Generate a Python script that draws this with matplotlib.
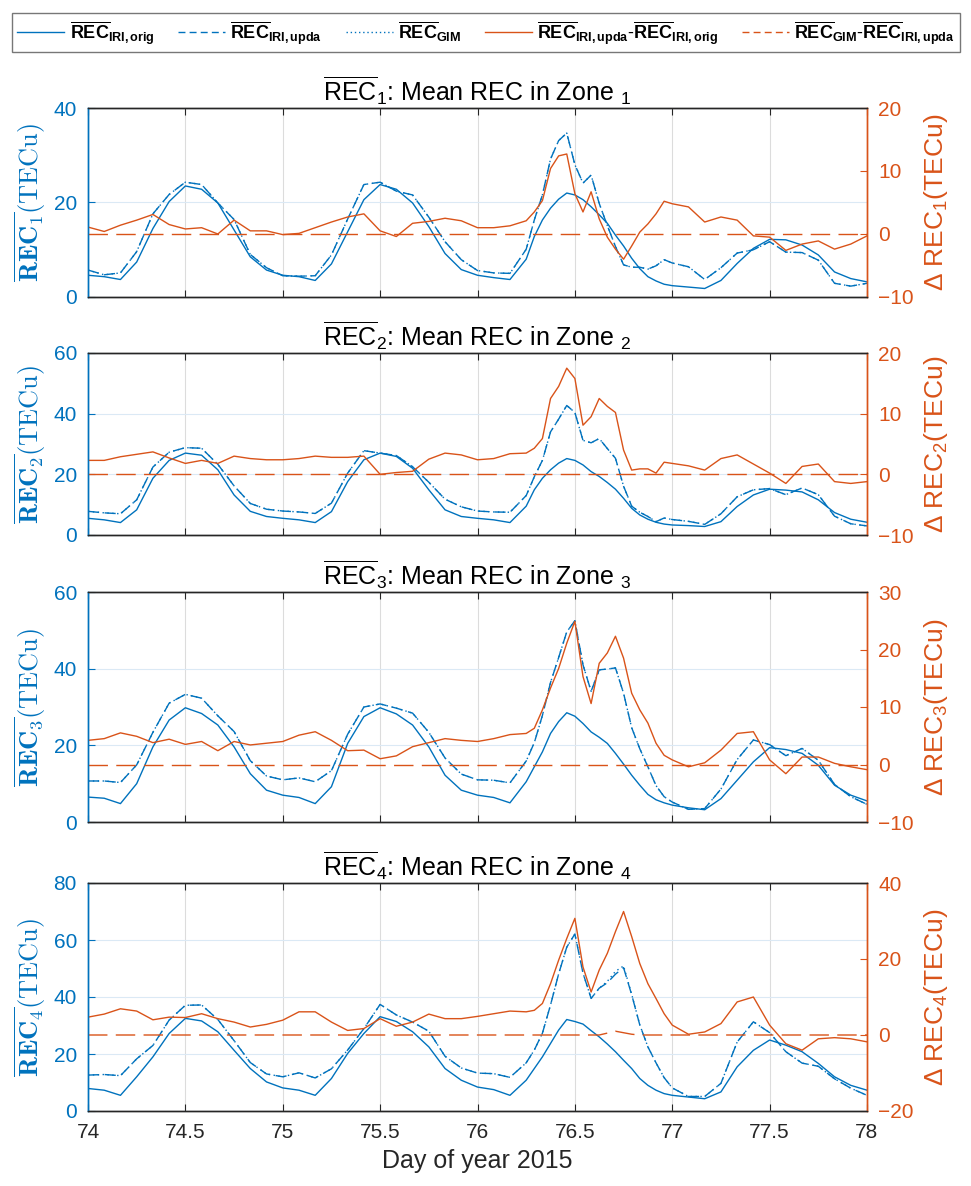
import numpy as np
import matplotlib.pyplot as plt
from matplotlib.lines import Line2D

plt.rcParams['font.family'] = ['Liberation Sans', 'DejaVu Sans']
plt.rcParams['mathtext.fontset'] = 'custom'
plt.rcParams['mathtext.rm'] = 'Liberation Sans'
plt.rcParams['mathtext.it'] = 'Liberation Sans:italic'
plt.rcParams['mathtext.bf'] = 'Liberation Sans:bold'

BLUE = '#0072BD'
ORANGE = '#D95319'
DARK = '#262626'

# sample times in hours after day 74.0 (2 h steps, hourly during the storm)
hours = list(range(0, 54, 2)) + list(range(54, 73)) + list(range(74, 97, 2))

# mean REC from original IRI (TECu)
orig_z1 = [4.6, 4.3, 3.7, 7.4, 14.5, 20.2, 23.5, 22.8, 19.9, 14.2, 8.5, 5.7, 4.6, 4.3,
           3.5, 7.0, 13.8, 20.6, 23.8, 22.8, 19.9, 14.9, 9.2, 5.8, 4.6, 4.1, 3.7,
           8.0, 12.8, 16.3, 18.8, 20.7, 22.0, 21.6, 20.6, 19.1, 17.4, 15.6, 13.1, 10.8,
           8.2, 6.0, 4.3, 3.4, 2.7, 2.4,
           2.1, 1.8, 3.5, 7.1, 10.3, 12.2, 12.1, 11.0, 8.9, 5.3, 3.9, 3.2]
orig_z2 = [5.5, 5.0, 4.1, 8.3, 18.7, 24.6, 27.0, 26.3, 21.5, 13.2, 7.8, 6.1, 5.5, 5.0,
           4.1, 7.7, 17.6, 24.8, 27.0, 25.9, 22.0, 14.9, 8.3, 6.1, 5.5, 5.0, 4.1,
           9.5, 14.9, 18.7, 21.5, 23.7, 25.2, 24.6, 23.1, 20.9, 19.3, 17.3, 15.1, 12.1,
           8.8, 6.6, 5.2, 4.2, 3.6, 3.3,
           3.1, 2.8, 4.4, 9.4, 13.2, 15.1, 14.8, 14.2, 11.6, 7.4, 5.2, 4.2]
orig_z3 = [6.5, 6.2, 4.8, 10.0, 19.6, 26.6, 29.8, 28.3, 25.3, 19.6, 12.6, 8.3, 7.0, 6.4,
           4.8, 9.2, 20.5, 27.5, 29.8, 28.2, 25.3, 19.6, 12.2, 8.3, 7.0, 6.4, 5.0,
           10.5, 14.4, 18.3, 23.1, 26.2, 28.5, 27.6, 25.7, 23.5, 22.1, 20.5, 17.9, 15.1,
           12.2, 9.6, 7.2, 5.8, 5.0, 4.4,
           3.7, 3.2, 6.1, 10.9, 15.7, 19.4, 18.9, 17.9, 14.8, 9.6, 7.0, 5.5]
orig_z4 = [7.9, 7.3, 5.5, 12.0, 19.0, 27.2, 32.5, 31.6, 27.8, 21.3, 14.9, 10.2, 8.1, 7.3,
           5.5, 11.4, 20.2, 27.2, 33.1, 31.4, 27.8, 22.5, 14.9, 10.8, 8.4, 7.5, 5.5,
           10.8, 14.9, 19.0, 23.7, 28.4, 32.1, 31.4, 30.5, 28.2, 26.0, 23.5, 20.8, 17.8,
           14.9, 11.4, 9.0, 7.3, 6.1, 5.5,
           4.9, 4.3, 6.7, 15.5, 21.3, 24.9, 23.1, 20.8, 16.7, 12.0, 9.0, 7.3]

# updated minus original (TECu)
dupd_z1 = [1.1, 0.4, 1.4, 2.2, 3.1, 1.5, 0.8, 1.0, 0.0, 2.2, 0.5, 0.5, -0.1, 0.1,
           1.0, 1.9, 2.7, 3.2, 0.5, -0.4, 1.7, 2.0, 2.5, 2.1, 1.0, 1.0, 1.3,
           2.1, 3.5, 5.3, 10.4, 12.4, 12.7, 6.4, 3.5, 6.7, 2.4, -0.5, -2.4, -4.0,
           -1.9, 0.3, 1.6, 3.2, 5.2, 4.8,
           4.3, 1.9, 2.7, 2.2, -0.3, -0.5, -2.6, -1.6, -1.1, -2.4, -1.6, -0.3]
dupd_z2 = [2.3, 2.3, 2.9, 3.3, 3.7, 2.7, 1.8, 2.3, 1.8, 3.0, 2.6, 2.4, 2.4, 2.6,
           3.0, 2.8, 2.8, 3.0, 0.0, 0.3, 0.5, 2.5, 3.5, 3.2, 2.4, 2.6, 3.4,
           3.5, 4.3, 5.9, 12.5, 14.5, 17.5, 15.8, 8.1, 9.5, 12.5, 11.2, 10.2, 4.0,
           0.7, 0.9, 0.9, 0.2, 2.0, 1.8,
           1.4, 0.7, 2.6, 3.2, 1.7, 0.2, -1.5, 1.3, 1.7, -1.2, -1.5, -1.2]
dupd_z3 = [4.2, 4.5, 5.5, 4.9, 3.8, 4.4, 3.5, 4.0, 2.4, 4.0, 3.4, 3.7, 4.0, 5.1,
           5.7, 4.2, 2.4, 2.5, 1.0, 1.5, 3.1, 3.8, 4.5, 4.2, 4.0, 4.5, 5.2,
           5.4, 6.3, 9.5, 13.3, 16.7, 21.1, 24.9, 15.3, 10.6, 17.6, 19.4, 22.3, 18.5,
           12.4, 9.5, 7.2, 3.7, 1.6, 0.8,
           -0.4, 0.3, 2.5, 5.4, 5.7, 0.8, -1.6, 1.3, 1.3, 0.2, -0.4, -0.9]
dupd_z4 = [4.7, 5.5, 6.9, 6.3, 4.0, 4.7, 4.6, 5.6, 4.3, 3.4, 2.1, 2.8, 3.9, 6.1,
           6.1, 3.4, 1.2, 1.7, 4.3, 2.3, 3.4, 5.5, 4.3, 4.3, 4.9, 5.6, 6.3,
           6.1, 6.5, 8.3, 13.5, 19.7, 25.4, 30.7, 17.9, 11.3, 17.1, 21.5, 27.2, 32.5,
           25.9, 18.8, 13.5, 9.6, 5.6, 2.6,
           0.2, 0.8, 3.0, 8.7, 10.0, 2.6, -2.3, -4.0, -1.0, -0.7, -1.0, -1.8]

# GIM minus updated (TECu)
gim_off_z1 = [0.0] * 58
gim_off_z2 = [0.0] * 58
gim_off_z3 = [0.0] * 58
gim_off_z4 = [0.0] * 37 + [0.5, 1.0, 0.6, 0.2] + [0.0] * 17

origs = [orig_z1, orig_z2, orig_z3, orig_z4]
dupds = [dupd_z1, dupd_z2, dupd_z3, dupd_z4]
gim_offs = [gim_off_z1, gim_off_z2, gim_off_z3, gim_off_z4]

left_lims = [(0, 40), (0, 60), (0, 60), (0, 80)]
left_ticks = [[0, 20, 40], [0, 20, 40, 60], [0, 20, 40, 60], [0, 20, 40, 60, 80]]
right_lims = [(-10, 20), (-10, 20), (-10, 30), (-20, 40)]
right_ticks = [[-10, 0, 10, 20], [-10, 0, 10, 20], [-10, 0, 10, 20, 30], [-20, 0, 20, 40]]

W, H = 971, 1186
# panel top / bottom in pixels
panels_px = [(108, 297), (353, 535), (592, 822), (883, 1111)]

fig = plt.figure(figsize=(W / 100, H / 100), dpi=100)
t = 74 + np.array(hours) / 24.0

for i in range(4):
    top, bot = panels_px[i]
    ax = fig.add_axes([88 / W, 1 - bot / H, 779 / W, (bot - top) / H])
    ax2 = ax.twinx()

    orig = np.array(origs[i])
    upda = orig + np.array(dupds[i])
    gim = upda + np.array(gim_offs[i])

    ax.plot(t, orig, color=BLUE, lw=1.0)
    ax.plot(t, upda, color=BLUE, lw=1.0, dashes=(8, 4))
    ax.plot(t, gim, color=BLUE, lw=1.0, dashes=(1, 2.5))
    ax2.plot(t, upda - orig, color=ORANGE, lw=1.0)
    ax2.plot(t, gim - upda, color=ORANGE, lw=1.0, dashes=(14, 6))

    ax.set_xlim(74, 78)
    ax.set_xticks(np.arange(74, 78.01, 0.5))
    ax.set_xticklabels(['74', '74.5', '75', '75.5', '76', '76.5', '77', '77.5', '78'])
    ax.set_ylim(*left_lims[i])
    ax.set_yticks(left_ticks[i])
    ax2.set_ylim(*right_lims[i])
    ax2.set_yticks(right_ticks[i])

    ax.xaxis.grid(True, color='#dcdcdc', lw=0.8)
    ax.yaxis.grid(True, color='#dbe9f5', lw=0.8)
    ax.set_axisbelow(True)

    ax.tick_params(axis='x', direction='in', top=True, length=5, colors=DARK,
                   labelsize=15, pad=9, labelbottom=(i == 3))
    ax.tick_params(axis='y', direction='in', length=5, colors=BLUE, labelsize=15, pad=8)
    ax2.tick_params(axis='y', direction='in', length=5, colors=ORANGE, labelsize=15, pad=8)

    for a in (ax, ax2):
        a.spines['left'].set_color(BLUE)
        a.spines['right'].set_color(ORANGE)
        a.spines['top'].set_color(DARK)
        a.spines['bottom'].set_color(DARK)
        for s in a.spines.values():
            s.set_linewidth(1.0)

    n = i + 1
    ax.set_title(r'$\overline{\mathrm{REC}}_{%d}$: Mean REC in Zone $_{%d}$' % (n, n),
                 fontsize=18, pad=5, color='black')
    ax.set_ylabel(r'$\overline{\mathbf{REC}_{\mathbf{%d}}}(\mathrm{TECu})$' % n,
                  color=BLUE, fontsize=19, math_fontfamily='cm', labelpad=4)
    ax2.set_ylabel('Δ REC$_{%d}$(TECu)' % n, color=ORANGE, fontsize=19, labelpad=6)

    if i == 3:
        ax.set_xlabel('Day of year 2015', fontsize=18, color=DARK, labelpad=5)

handles = [
    Line2D([], [], color=BLUE, lw=1.0),
    Line2D([], [], color=BLUE, lw=1.0, dashes=(5, 3)),
    Line2D([], [], color=BLUE, lw=1.0, dashes=(1, 2)),
    Line2D([], [], color=ORANGE, lw=1.0),
    Line2D([], [], color=ORANGE, lw=1.0, dashes=(5, 3)),
]
labels = [
    r'$\overline{\mathbf{REC}}_{\mathbf{IRI,orig}}$',
    r'$\overline{\mathbf{REC}}_{\mathbf{IRI,upda}}$',
    r'$\overline{\mathbf{REC}}_{\mathbf{GIM}}$',
    r'$\overline{\mathbf{REC}}_{\mathbf{IRI,upda}}$-$\overline{\mathbf{REC}}_{\mathbf{IRI,orig}}$',
    r'$\overline{\mathbf{REC}}_{\mathbf{GIM}}$-$\overline{\mathbf{REC}}_{\mathbf{IRI,upda}}$',
]
leg = fig.legend(handles, labels, loc='lower left',
                 bbox_to_anchor=(12 / W, 1 - 52 / H, 948 / W, 44 / H), mode='expand',
                 ncol=5, fontsize=13, handlelength=2.6, handletextpad=0.3,
                 columnspacing=0.5, borderaxespad=0, borderpad=0.3,
                 frameon=True, fancybox=False, edgecolor='#555555')
leg.get_frame().set_linewidth(1.0)

fig.savefig('out.png', dpi=100)
